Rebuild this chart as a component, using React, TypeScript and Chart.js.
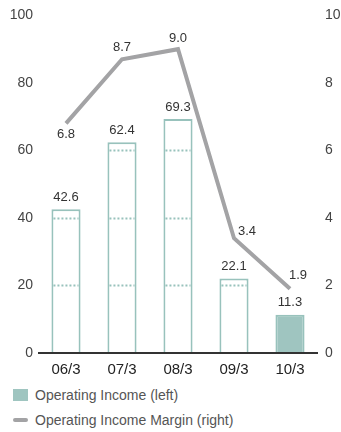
import React, { useEffect, useRef } from "react";
import { Chart, registerables } from "chart.js";

Chart.register(...registerables);

const categories = ["06/3", "07/3", "08/3", "09/3", "10/3"];
const operatingIncome = [42.6, 62.4, 69.3, 22.1, 11.3];
const operatingMargin = [6.8, 8.7, 9.0, 3.4, 1.9];
const leftTicks = [0, 20, 40, 60, 80, 100];
const rightTicks = [0, 2, 4, 6, 8, 10];

// label placement styles for the margin line (dx, dy from point)
const marginLabelOffsets: [number, number][] = [
  [0, 11],
  [0, -12],
  [0, -11],
  [13, -7],
  [8, -13],
];

const TEAL = "#98c2bc";
const TEAL_FILL = "#9fc5c0";
const GRAY = "#a3a3a5";
const FONT = "'Liberation Sans', Arial, sans-serif";

const barDecor = {
  id: "barDecor",
  afterDatasetDraw(chart: any, args: any) {
    if (args.index !== 0) return;
    const ctx = chart.ctx;
    const meta = chart.getDatasetMeta(0);
    const y = chart.scales.y;
    ctx.save();
    ctx.strokeStyle = TEAL;
    ctx.lineWidth = 2;
    ctx.setLineDash([2, 2]);
    meta.data.forEach((bar: any, i: number) => {
      const v = operatingIncome[i];
      const half = bar.width / 2;
      leftTicks.forEach((t) => {
        if (t > 0 && t < v) {
          const py = Math.round(y.getPixelForValue(t)) + 0.5;
          ctx.beginPath();
          ctx.moveTo(bar.x - half + 2, py);
          ctx.lineTo(bar.x + half - 2, py);
          ctx.stroke();
        }
      });
    });
    ctx.restore();
  },
  afterDatasetsDraw(chart: any) {
    const ctx = chart.ctx;
    const area = chart.chartArea;
    ctx.save();
    // baseline axis drawn over bars
    ctx.strokeStyle = "#333";
    ctx.lineWidth = 2;
    ctx.beginPath();
    ctx.moveTo(area.left, area.bottom);
    ctx.lineTo(area.right, area.bottom);
    ctx.stroke();

    ctx.font = `13px ${FONT}`;
    ctx.fillStyle = "#333";
    ctx.textAlign = "center";
    ctx.textBaseline = "middle";
    chart.getDatasetMeta(0).data.forEach((bar: any, i: number) => {
      ctx.fillText(operatingIncome[i].toFixed(1), bar.x, bar.y - 12);
    });
    chart.getDatasetMeta(1).data.forEach((pt: any, i: number) => {
      const [dx, dy] = marginLabelOffsets[i];
      ctx.fillText(operatingMargin[i].toFixed(1), pt.x + dx, pt.y + dy);
    });
    ctx.restore();
  },
};

export default function App() {
  const ref = useRef<HTMLCanvasElement>(null);
  useEffect(() => {
    const chart = new Chart(ref.current!, {
      type: "bar",
      data: {
        labels: categories,
        datasets: [
          {
            type: "bar",
            label: "Operating Income (left)",
            data: operatingIncome,
            yAxisID: "y",
            backgroundColor: operatingIncome.map((_, i) =>
              i === operatingIncome.length - 1 ? TEAL_FILL : "#ffffff"
            ),
            borderColor: TEAL,
            borderWidth: 2,
            borderSkipped: "start",
            barPercentage: 0.52,
            categoryPercentage: 1,
            order: 2,
          },
          {
            type: "line",
            label: "Operating Income Margin (right)",
            data: operatingMargin,
            yAxisID: "y1",
            borderColor: GRAY,
            borderWidth: 4,
            pointRadius: 0,
            tension: 0,
            order: 1,
          } as any,
        ],
      },
      options: {
        responsive: false,
        animation: false,
        layout: { padding: { top: 15, left: 0, right: 0, bottom: 0 } },
        plugins: { legend: { display: false }, tooltip: { enabled: false } },
        scales: {
          x: {
            grid: { display: false, drawTicks: false },
            border: { display: false },
            ticks: { color: "#222", font: { family: FONT, size: 15 }, padding: 8 },
            afterFit: (s: any) => {
              s.height = 27;
            },
          },
          y: {
            position: "left",
            min: 0,
            max: 100,
            afterBuildTicks: (s: any) => {
              s.ticks = leftTicks.map((v) => ({ value: v }));
            },
            grid: { display: false, drawTicks: false },
            border: { display: false },
            ticks: { color: "#444", font: { family: FONT, size: 14 }, padding: 5 },
            afterFit: (s: any) => {
              s.width = 38;
            },
          },
          y1: {
            position: "right",
            min: 0,
            max: 10,
            afterBuildTicks: (s: any) => {
              s.ticks = rightTicks.map((v) => ({ value: v }));
            },
            grid: { display: false, drawTicks: false },
            border: { display: false },
            ticks: { color: "#444", font: { family: FONT, size: 14 }, padding: 7 },
            afterFit: (s: any) => {
              s.width = 23;
            },
          },
        },
      },
      plugins: [barDecor],
    });
    return () => chart.destroy();
  }, []);

  const legendText: React.CSSProperties = {
    position: "absolute",
    left: 35,
    fontFamily: FONT,
    fontSize: 14,
    color: "#555",
    lineHeight: "16px",
    whiteSpace: "nowrap",
  };

  return (
    <div style={{ position: "absolute", left: 0, top: 0, width: 341, height: 432, background: "#fff" }}>
      <canvas ref={ref} width={341} height={380} style={{ display: "block" }} />
      <div style={{ position: "absolute", left: 13, top: 389, width: 15, height: 12, background: TEAL_FILL }} />
      <div style={{ ...legendText, top: 387 }}>Operating Income (left)</div>
      <div style={{ position: "absolute", left: 13, top: 418, width: 15, height: 4, borderRadius: 2, background: GRAY }} />
      <div style={{ ...legendText, top: 412 }}>Operating Income Margin (right)</div>
    </div>
  );
}
